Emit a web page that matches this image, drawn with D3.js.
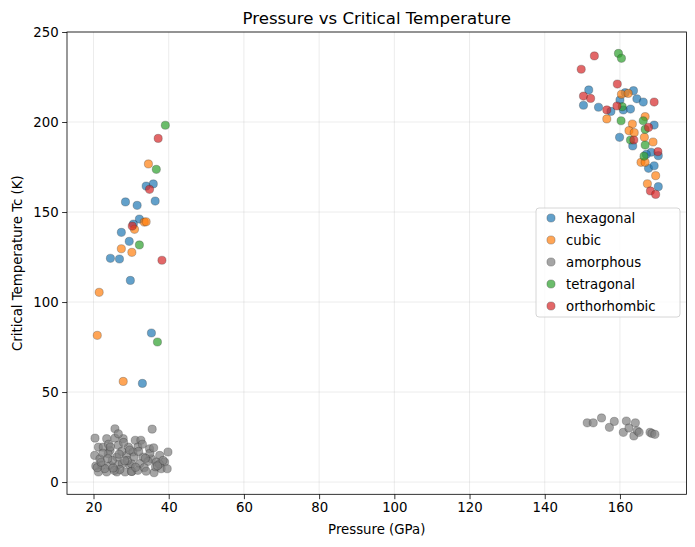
<!DOCTYPE html>
<html><head><meta charset="utf-8">
<script src="https://cdn.jsdelivr.net/npm/d3@7"></script>
<style>body{margin:0;background:#fff}svg{display:block}text{font-family:"DejaVu Sans",sans-serif}</style>
</head><body><svg id="c" width="695" height="547"></svg>
<script>
const categories = ["hexagonal","cubic","amorphous","tetragonal","orthorhombic"];
const colors = ["#1f77b4","#ff7f0e","#7f7f7f","#2ca02c","#d62728"];
const xTicks = [20,40,60,80,100,120,140,160];
const yTicks = [0,50,100,150,200,250];

const hexagonalP = [34.0,35.9,28.5,31.6,36.4,32.2,30.6,27.4,29.5,24.5,26.9,29.8,35.4,33.0,
  151.7,150.3,154.3,163.6,164.5,166.2,160.0,157.6,160.9,162.8,161.4,169.1,159.9,163.4,168.3,170.2,167.0,167.6,169.1,170.2];
const hexagonalT = [164.4,165.6,155.6,153.7,156.1,146.1,143.3,138.7,133.7,124.3,123.9,112.0,82.8,54.8,
  217.8,209.3,208.2,217.4,212.9,211.1,212.2,205.9,206.7,207.2,216.3,198.3,191.5,186.7,183.2,181.3,182.0,174.3,175.7,164.1];

const cubicP = [34.6,33.5,34.0,30.9,27.4,30.2,21.5,21.0,27.9,
  160.4,162.2,156.5,163.3,166.7,162.4,163.8,166.5,168.8,165.6,166.7,169.5,167.3];
const cubicT = [176.7,144.4,144.6,140.4,129.6,127.6,105.4,81.5,55.9,
  215.4,215.9,201.7,198.9,203.0,195.2,194.1,191.5,188.9,177.6,177.6,170.2,165.7];

const amorphousP = [25.7,20.4,23.5,25.7,27.9,26.6,21.3,24.4,22.6,26.6,29.3,20.3,21.7,23.9,26.2,28.8,20.6,22.2,24.4,26.6,27.7,29.7,21.3,23.5,26.2,28.4,30.2,
  35.6,31.1,32.6,31.8,34.9,30.5,33.2,35.4,37.6,39.8,30.1,32.3,34.5,36.7,38.9,30.1,31.8,36.1,38.0,39.6,
  22.5,24.0,27.5,29.0,25.0,23.0,27.0,33.5,35.0,36.5,33.0,37.5,21.0,28.0,30.8,34.0,25.5,32.0,26.8,36.0,38.5,24.5,
  22.0,25.2,28.3,31.2,33.8,37.0,29.6,23.8,
  151.3,152.9,155.1,157.2,158.5,160.9,161.7,162.4,164.1,163.7,164.6,165.1,168.0,168.5,169.3];
const amorphousT = [29.6,24.4,24.1,24.4,24.1,26.8,19.4,17.6,19.4,20.4,19.4,14.8,12.9,15.7,13.9,14.8,8.9,9.3,9.3,9.6,10.2,9.3,5.6,5.6,5.6,5.6,5.9,
  29.4,23.2,23.2,19.4,18.5,16.7,13.9,12.9,14.8,16.7,10.2,10.2,11.5,11.1,11.1,5.9,6.5,5.2,7.4,7.4,
  16.0,21.0,17.0,12.0,12.0,7.5,7.0,8.0,16.0,8.5,21.0,10.0,8.0,22.0,14.0,6.0,6.5,17.0,15.5,19.0,12.0,19.5,
  11.0,7.8,11.8,8.2,13.2,9.0,17.8,13.0,
  32.9,32.9,35.6,30.4,33.7,27.6,33.9,30.0,32.9,25.6,28.5,27.6,27.6,27.0,26.5];

const tetragonalP = [39.1,36.7,32.2,37.0, 159.6,160.4,160.6,160.3,166.2,166.7,162.8,166.7,166.4];
const tetragonalT = [198.2,173.7,131.7,77.8, 238.1,235.4,208.5,200.7,200.7,195.9,190.0,187.2,181.0];

const orthorhombicP = [37.2,34.9,30.3,38.2, 153.2,149.7,159.3,150.3,152.2,169.1,156.5,159.2,167.6,163.7,170.1,168.1,169.5];
const orthorhombicT = [190.9,162.6,142.2,123.2, 236.7,229.3,221.1,214.4,213.1,211.1,206.7,208.9,197.0,190.0,183.5,161.7,159.8];

const seriesP = [hexagonalP,cubicP,amorphousP,tetragonalP,orthorhombicP];
const seriesT = [hexagonalT,cubicT,amorphousT,tetragonalT,orthorhombicT];

const L=67,R=686.5,T=32,B=494.3;
const svg=d3.select("#c");
const x=d3.scaleLinear().domain([12.95,177.7]).range([L,R]);
const y=d3.scaleLinear().domain([-6.8,250]).range([B,T]);

// grid
const g=svg.append("g");
g.selectAll(".gx").data(xTicks).join("line").attr("x1",d=>x(d)).attr("x2",d=>x(d)).attr("y1",T).attr("y2",B)
 .attr("stroke","#b0b0b0").attr("stroke-opacity",0.3).attr("stroke-width",0.8);
g.selectAll(".gy").data(yTicks).join("line").attr("y1",d=>y(d)).attr("y2",d=>y(d)).attr("x1",L).attr("x2",R)
 .attr("stroke","#b0b0b0").attr("stroke-opacity",0.3).attr("stroke-width",0.8);

// points
categories.forEach((c,i)=>{
  const pts=seriesP[i].map((p,j)=>[p,seriesT[i][j]]);
  svg.append("g").selectAll("circle").data(pts).join("circle")
    .attr("cx",d=>x(d[0])).attr("cy",d=>y(d[1])).attr("r",4.1)
    .attr("fill",colors[i]).attr("fill-opacity",0.7)
    .attr("stroke","#222").attr("stroke-opacity",0.45).attr("stroke-width",0.6);
});

// axes
const xa=svg.append("g").attr("transform",`translate(0,${B})`).call(d3.axisBottom(x).tickValues(xTicks).tickSize(4.9).tickPadding(3.5));
const ya=svg.append("g").attr("transform",`translate(${L},0)`).call(d3.axisLeft(y).tickValues(yTicks).tickSize(4.9).tickPadding(3.5));
[xa,ya].forEach(a=>{a.selectAll("text").attr("font-size",13.3).attr("fill","#000").style("font-family","DejaVu Sans");
  a.selectAll("line").attr("stroke","#000").attr("stroke-width",0.8); a.select(".domain").remove();});
svg.append("rect").attr("x",L).attr("y",T).attr("width",R-L).attr("height",B-T).attr("fill","none").attr("stroke","#000").attr("stroke-width",0.8);

svg.append("text").attr("x",(L+R)/2).attr("y",24).attr("text-anchor","middle").attr("font-size",16.6).text("Pressure vs Critical Temperature");
svg.append("text").attr("x",(L+R)/2).attr("y",534).attr("text-anchor","middle").attr("font-size",13.3).text("Pressure (GPa)");
svg.append("text").attr("transform",`translate(22,${(T+B)/2}) rotate(-90)`).attr("text-anchor","middle").attr("font-size",13.3).text("Critical Temperature Tc (K)");

// legend
const lg=svg.append("g").attr("transform","translate(536,208)");
lg.append("rect").attr("width",144).attr("height",109).attr("rx",3).attr("fill","#fff").attr("fill-opacity",0.8).attr("stroke","#ccc").attr("stroke-width",0.8);
categories.forEach((c,i)=>{
  const yy=10+i*22;
  lg.append("circle").attr("cx",15).attr("cy",yy).attr("r",4.1).attr("fill",colors[i]).attr("fill-opacity",0.7)
    .attr("stroke","#222").attr("stroke-opacity",0.45).attr("stroke-width",0.6);
  lg.append("text").attr("x",30).attr("y",yy+4.6).attr("font-size",13.3).text(c);
});
</script></body></html>
